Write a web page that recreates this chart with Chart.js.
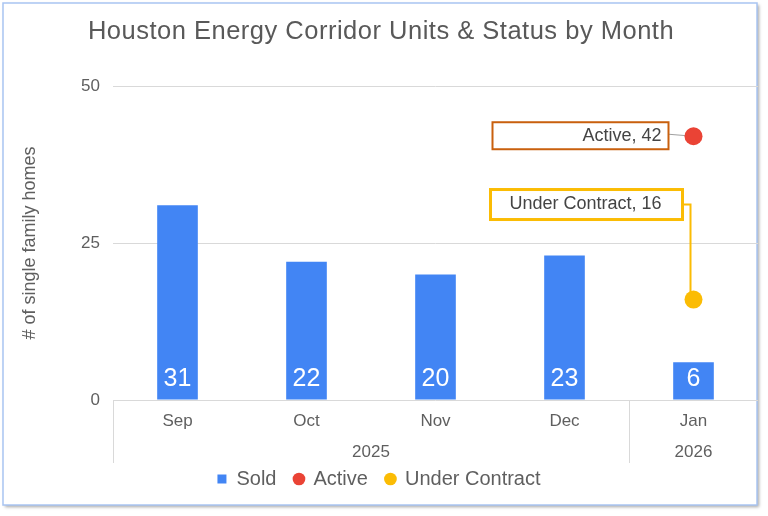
<!DOCTYPE html>
<html><head><meta charset="utf-8">
<script src="https://cdn.jsdelivr.net/npm/chart.js@4"></script>
<style>html,body{margin:0;padding:0;background:#fff}#wrap{width:768px;height:516px;position:relative}</style>
</head><body><div id="wrap"><canvas id="c"></canvas></div>
<script>
const chartTitle = 'Houston Energy Corridor Units & Status by Month';
const months = ['Sep','Oct','Nov','Dec','Jan'];
const monthYears = ['2025','2025','2025','2025','2026'];
const sold = [31,22,20,23,6];
const active = [null,null,null,null,42];
const underContract = [null,null,null,null,16];
const yMin = 0, yMax = 50, yStep = 25;

const FONT = "'Liberation Sans', Arial, sans-serif";
const BLUE = '#4285f4', RED = '#ea4335', YELLOW = '#fbbc04';
const TXT = '#5f5f5f';

const deco = {
  id: 'deco',
  beforeDraw(chart) {
    const ctx = chart.ctx;
    ctx.save();
    ctx.fillStyle = '#ffffff';
    ctx.fillRect(0, 0, chart.width, chart.height);
    ctx.shadowColor = 'rgba(0,0,0,0.35)';
    ctx.shadowOffsetX = 2; ctx.shadowOffsetY = 2; ctx.shadowBlur = 3;
    ctx.fillRect(3, 3, 754, 502);
    ctx.shadowColor = 'transparent';
    ctx.strokeStyle = '#a9c5f2';
    ctx.lineWidth = 1.5;
    ctx.strokeRect(3, 3, 754, 502);
    // title
    ctx.fillStyle = '#595959';
    ctx.font = '25.5px ' + FONT;
    if ('letterSpacing' in ctx) ctx.letterSpacing = '0.5px';
    ctx.textAlign = 'center'; ctx.textBaseline = 'middle';
    ctx.fillText(chartTitle, chart.width / 2 - 3, 32);
    if ('letterSpacing' in ctx) ctx.letterSpacing = '0px';
    ctx.restore();
  },
  beforeDatasetsDraw(chart) {
    const ctx = chart.ctx;
    const x = chart.scales.x, y = chart.scales.y;
    const ca = chart.chartArea;
    ctx.save();
    // year group dividers and labels
    const cw = x.getPixelForValue(1) - x.getPixelForValue(0);
    let start = 0;
    ctx.strokeStyle = '#d9d9d9'; ctx.lineWidth = 1;
    ctx.fillStyle = TXT; ctx.font = '17px ' + FONT;
    ctx.textAlign = 'center'; ctx.textBaseline = 'middle';
    for (let i = 1; i <= monthYears.length; i++) {
      if (i === monthYears.length || monthYears[i] !== monthYears[start]) {
        const l = x.getPixelForValue(start) - cw / 2;
        const r = x.getPixelForValue(i - 1) + cw / 2;
        ctx.beginPath(); ctx.moveTo(Math.round(l) + 0.5, ca.bottom); ctx.lineTo(Math.round(l) + 0.5, ca.bottom + 63); ctx.stroke();
        ctx.fillText(monthYears[start], (l + r) / 2, ca.bottom + 52);
        start = i;
      }
    }
    // leader lines
    const ai = active.findIndex(v => v !== null);
    const apx = x.getPixelForValue(ai), apy = y.getPixelForValue(active[ai]);
    ctx.strokeStyle = '#a0a0a0'; ctx.lineWidth = 1;
    ctx.beginPath(); ctx.moveTo(apx - 25, apy - 2); ctx.lineTo(apx, apy); ctx.stroke();
    const ui = underContract.findIndex(v => v !== null);
    const upx = x.getPixelForValue(ui), upy = y.getPixelForValue(underContract[ui]);
    ctx.strokeStyle = YELLOW; ctx.lineWidth = 2;
    ctx.beginPath(); ctx.moveTo(upx - 11, upy - 95); ctx.lineTo(upx - 3, upy - 95); ctx.lineTo(upx - 3, upy); ctx.stroke();
    ctx.restore();
  },
  afterDatasetsDraw(chart) {
    const ctx = chart.ctx;
    const x = chart.scales.x, y = chart.scales.y;
    ctx.save();
    // bar value labels
    const meta = chart.getDatasetMeta(0);
    ctx.fillStyle = '#ffffff'; ctx.font = '25px ' + FONT;
    ctx.textAlign = 'center'; ctx.textBaseline = 'middle';
    meta.data.forEach((bar, i) => {
      ctx.fillText(String(sold[i]), bar.x, bar.base - 20);
    });
    // annotation boxes
    ctx.font = '18px ' + FONT; ctx.fillStyle = '#444444';
    const ai = active.findIndex(v => v !== null);
    const apx = x.getPixelForValue(ai), apy = y.getPixelForValue(active[ai]);
    let r = apx - 25, t = apy - 14;
    ctx.strokeStyle = '#c9600e'; ctx.lineWidth = 2;
    ctx.strokeRect(r - 176, t, 176, 27);
    ctx.textAlign = 'right';
    ctx.fillText(chart.data.datasets[1].label + ', ' + active[ai], r - 7, apy);
    const ui = underContract.findIndex(v => v !== null);
    const upx = x.getPixelForValue(ui), upy = y.getPixelForValue(underContract[ui]);
    r = upx - 11; t = upy - 110;
    ctx.strokeStyle = YELLOW; ctx.lineWidth = 3;
    ctx.strokeRect(r - 192, t, 192, 30);
    ctx.textAlign = 'center';
    ctx.fillText(chart.data.datasets[2].label + ', ' + underContract[ui], r - 97, t + 15);
    ctx.restore();
  }
};

new Chart(document.getElementById('c'), {
  type: 'bar',
  data: {
    labels: months,
    datasets: [
      { label: 'Sold', data: sold, backgroundColor: BLUE, borderWidth: 0, barPercentage: 0.315, categoryPercentage: 1, order: 3 },
      { label: 'Active', type: 'line', data: active, showLine: false, pointRadius: 9, pointHoverRadius: 9, pointBackgroundColor: RED, backgroundColor: RED, borderColor: RED, pointBorderWidth: 0, order: 1 },
      { label: 'Under Contract', type: 'line', data: underContract, showLine: false, pointRadius: 9, pointHoverRadius: 9, pointBackgroundColor: YELLOW, backgroundColor: YELLOW, borderColor: YELLOW, pointBorderWidth: 0, order: 2 }
    ]
  },
  options: {
    responsive: true, maintainAspectRatio: false, animation: false,
    layout: { padding: { left: 0, right: 10, top: 86, bottom: 17 } },
    plugins: {
      title: { display: false },
      legend: { position: 'bottom',
        labels: { usePointStyle: true, boxWidth: 9, boxHeight: 9, padding: 18, color: TXT,
          font: { family: FONT, size: 20 },
          generateLabels(chart) {
            const styles = ['rect', 'circle', 'circle'];
            const cols = [BLUE, RED, YELLOW];
            return chart.data.datasets.map((d, i) => ({
              text: d.label, fillStyle: cols[i], strokeStyle: cols[i], lineWidth: 0,
              pointStyle: styles[i], hidden: false, datasetIndex: i, fontColor: TXT
            }));
          } } },
      tooltip: { enabled: false }
    },
    scales: {
      x: {
        grid: { display: false, drawTicks: false }, border: { display: false },
        ticks: { color: TXT, font: { family: FONT, size: 17 }, padding: 11 },
        afterFit(s) { s.height = 51; }
      },
      y: {
        min: yMin, max: yMax,
        grid: { color: '#d9d9d9', drawTicks: false }, border: { display: false },
        ticks: { stepSize: yStep, color: TXT, font: { family: FONT, size: 17 }, padding: 13 },
        title: { display: true, text: '# of single family homes', color: TXT, font: { family: FONT, size: 18 }, padding: { top: 19, bottom: 0 } },
        afterFit(s) { s.width = 113; }
      }
    }
  },
  plugins: [deco]
});
</script></body></html>
